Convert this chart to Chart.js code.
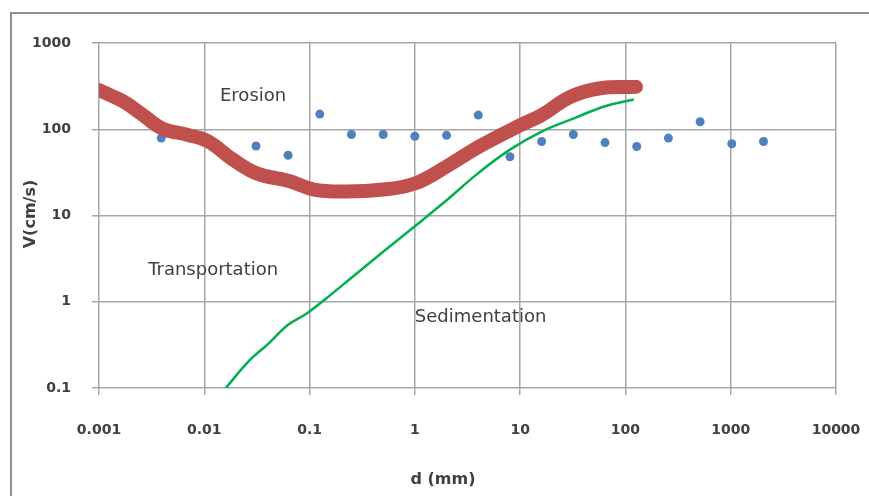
<!DOCTYPE html>
<html>
<head>
<meta charset="utf-8">
<script src="https://cdn.jsdelivr.net/npm/chart.js@4.4.1/dist/chart.umd.min.js"></script>
<style>
  html, body { margin: 0; padding: 0; background: #fff; }
  #wrap { position: relative; width: 869px; height: 496px; overflow: hidden; }
  #frame { position: absolute; left: 10px; top: 12px; width: 900px; height: 520px; border: 2px solid #8e8e8e; box-sizing: border-box; }
  #chart { position: absolute; left: 0; top: 0; }
</style>
</head>
<body>
<div id="wrap">
  <div id="frame"></div>
  <canvas id="chart" width="869" height="496"></canvas>
</div>
<script>
// Hjulstrom diagram - grain size vs. velocity

// axis ticks
const xTicks = [0.001, 0.01, 0.1, 1, 10, 100, 1000, 10000];
const xTickLabels = ['0.001', '0.01', '0.1', '1', '10', '100', '1000', '10000'];
const yTicks = [0.1, 1, 10, 100, 1000];
const yTickLabels = ['0.1', '1', '10', '100', '1000'];

// erosion curve (red)
const erosionD = [0.001, 0.0017, 0.0025, 0.004, 0.007, 0.011, 0.018, 0.031, 0.065, 0.11, 0.22, 0.5, 1, 2, 4, 10, 16, 30, 56, 126];
const erosionV = [285, 210, 152, 102, 86, 72, 46, 31, 25, 20, 19, 20, 23.5, 37, 62, 111, 146, 237, 297, 310];

// sedimentation curve (green)
const sedimentD = [0.016, 0.027, 0.04, 0.0625, 0.094, 0.145, 0.25, 0.5, 1, 2, 4, 8, 16, 32, 64, 120];
const sedimentV = [0.1, 0.21, 0.32, 0.54, 0.73, 1.1, 1.9, 3.8, 7.5, 15, 31, 58, 94, 133, 185, 221];

// measured points (blue)
const pointD = [0.0039, 0.031, 0.0625, 0.125, 0.25, 0.5, 1, 2, 4, 8, 16, 32, 64, 128, 256, 512, 1024, 2048];
const pointV = [79, 64, 50, 150, 87, 87, 83, 85, 146, 48, 72, 87, 70, 63, 79, 122, 68, 72];

// region names, anchored at (d, V) of their left baseline
const regionNames = ['Erosion', 'Transportation', 'Sedimentation'];
const regionD = [0.0141, 0.00293, 1.0];
const regionV = [212, 2.04, 0.58];

const xTitle = 'd (mm)';
const yTitle = 'V(cm/s)';

const toXY = (xs, ys) => xs.map((x, i) => ({ x: x, y: ys[i] }));

const textPlugin = {
    id: 'texts',
    afterDraw(chart) {
        const ctx = chart.ctx;
        const sx = chart.scales.x, sy = chart.scales.y;
        ctx.save();
        ctx.fillStyle = '#404040';
        ctx.font = '18px "DejaVu Sans"';
        ctx.textAlign = 'left';
        ctx.textBaseline = 'alphabetic';
        regionNames.forEach((t, i) => {
            ctx.fillText(t, sx.getPixelForValue(regionD[i]), sy.getPixelForValue(regionV[i]));
        });

        ctx.font = 'bold 16px "DejaVu Sans"';
        ctx.textAlign = 'center';
        ctx.textBaseline = 'middle';
        ctx.fillText(xTitle, 443, 480);
        ctx.translate(31, 214);
        ctx.rotate(-Math.PI / 2);
        ctx.fillText(yTitle, 0, 0);
        ctx.restore();
    }
};

const gridStyle = { color: '#a6a6a6', lineWidth: 1.5, tickLength: 7, drawTicks: true };
const tickFont = { family: '"DejaVu Sans"', size: 14, weight: 'bold' };

new Chart(document.getElementById('chart'), {
    type: 'scatter',
    data: {
        datasets: [
            {
                label: 'Erosion',
                data: toXY(erosionD, erosionV),
                showLine: true,
                borderColor: '#c0504d',
                borderWidth: 14,
                borderCapStyle: 'round',
                borderJoinStyle: 'round',
                tension: 0.4,
                pointRadius: 0,
                order: 0,
                clip: { left: 0, top: 20, right: 20, bottom: 0 }
            },
            {
                label: 'Sedimentation',
                data: toXY(sedimentD, sedimentV),
                showLine: true,
                borderColor: '#00b050',
                borderWidth: 2.5,
                tension: 0.4,
                pointRadius: 0,
                order: 1
            },
            {
                label: 'Data',
                data: toXY(pointD, pointV),
                backgroundColor: '#4f81bd',
                borderColor: '#4f81bd',
                pointRadius: 4.5,
                borderWidth: 0,
                order: 2
            }
        ]
    },
    options: {
        responsive: false,
        animation: false,
        devicePixelRatio: 1,
        layout: { padding: { left: 0, top: 43, right: 33, bottom: 0 } },
        plugins: { legend: { display: false }, tooltip: { enabled: false } },
        scales: {
            x: {
                type: 'logarithmic',
                min: 0.001,
                max: 10000,
                afterBuildTicks: s => { s.ticks = xTicks.map(v => ({ value: v })); },
                afterFit: s => { s.height = 108; s.paddingLeft = 0; s.paddingRight = 0; },
                grid: gridStyle,
                border: { display: false },
                ticks: {
                    autoSkip: false,
                    maxRotation: 0,
                    padding: 27,
                    color: '#404040',
                    font: tickFont,
                    callback: (v, i) => xTickLabels[i]
                }
            },
            y: {
                type: 'logarithmic',
                min: 0.1,
                max: 1000,
                afterBuildTicks: s => { s.ticks = yTicks.map(v => ({ value: v })); },
                afterFit: s => { s.width = 99; s.paddingTop = 0; s.paddingBottom = 0; },
                grid: gridStyle,
                border: { display: false },
                ticks: {
                    autoSkip: false,
                    padding: 21,
                    color: '#404040',
                    font: tickFont,
                    callback: (v, i) => yTickLabels[i]
                }
            }
        }
    },
    plugins: [textPlugin]
});
</script>
</body>
</html>
